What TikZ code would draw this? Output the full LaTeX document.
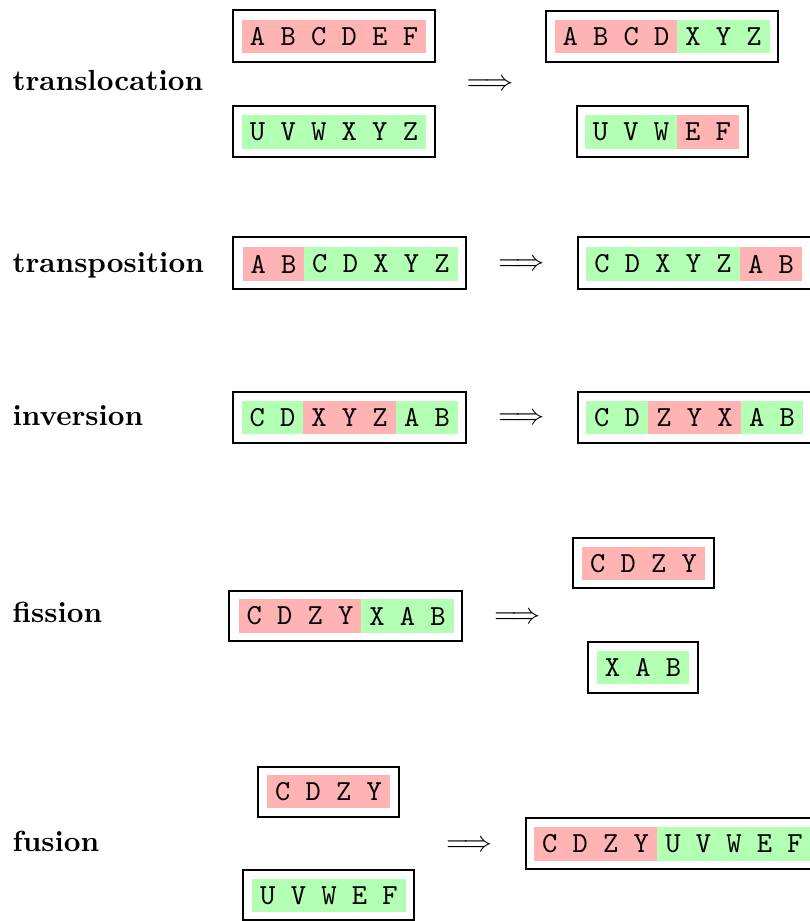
\documentclass[tikz,border=0pt]{standalone}
\usetikzlibrary{positioning}
\definecolor{segred}{RGB}{255,179,179}
\definecolor{seggreen}{RGB}{179,255,179}
\def\pxu{0.3436}
\newcommand\seg[7]{\node[segbox,fill=#6,minimum width={(#3-#2)*\pxu pt},minimum height={(#5-#4)*\pxu pt}] (#1) at ({(#2+#3)/2},{(#4+#5)/2}) {#7};}
\newcommand\obox[5]{\node[outerbox,minimum width={(#3-#2)*\pxu pt},minimum height={(#5-#4)*\pxu pt}] (#1) at ({(#2+#3)/2},{(#4+#5)/2}) {};}
\tikzset{
  segbox/.style={inner sep=0pt,outer sep=0pt,draw=none,font=\ttfamily,text=black},
  outerbox/.style={draw=black,line width=0.8pt,inner sep=0pt,outer sep=0pt},
  lab/.style={inner sep=0pt,font=\bfseries,anchor=base west},
  arr/.style={inner sep=0pt}
}
\begin{document}
\begin{tikzpicture}[x=0.3436pt,y=-0.3436pt]
\useasboundingbox (0,0) rectangle (810,921);
% row 1: translocation
\node[lab] (l1) at (12,91) {translocation};
\obox{b1}{233}{435}{10}{62}
\seg{s1}{242}{426}{20}{53}{segred}{A B C D E F}
\obox{b2}{233}{435}{106}{157}
\seg{s2}{242}{426}{115}{149}{seggreen}{U V W X Y Z}
\node[arr] (a1) at (490,85) {$\Longrightarrow$};
\obox{b3}{546}{778}{11}{62}
\seg{s3}{555}{677}{20}{53}{segred}{A B C D}
\seg{s4}{677}{770}{20}{53}{seggreen}{X Y Z}
\obox{b4}{577}{748}{106}{157}
\seg{s5}{585}{677}{115}{149}{seggreen}{U V W}
\seg{s6}{677}{739}{115}{149}{segred}{E F}
% row 2: transposition
\node[lab] (l2) at (12,272) {transposition};
\obox{b5}{233}{466}{237}{289}
\seg{s7}{243}{304}{247}{281}{segred}{A B}
\seg{s8}{304}{458}{247}{281}{seggreen}{C D X Y Z}
\node[arr] (a2) at (521.5,265) {$\Longrightarrow$};
\obox{b6}{578}{812}{237}{289}
\seg{s9}{586}{740}{247}{281}{seggreen}{C D X Y Z}
\seg{s10}{740}{802}{247}{281}{segred}{A B}
% row 3: inversion
\node[lab] (l3) at (12,425) {inversion};
\obox{b7}{233}{466}{392}{443}
\seg{s11}{242}{303}{401}{434}{seggreen}{C D}
\seg{s12}{303}{396}{401}{434}{segred}{X Y Z}
\seg{s13}{396}{458}{401}{434}{seggreen}{A B}
\node[arr] (a3) at (521.5,419) {$\Longrightarrow$};
\obox{b8}{578}{812}{392}{443}
\seg{s14}{586}{648}{401}{434}{seggreen}{C D}
\seg{s15}{648}{741}{401}{434}{segred}{Z Y X}
\seg{s16}{741}{803}{401}{434}{seggreen}{A B}
% row 4: fission
\node[lab] (l4) at (12,622) {fission};
\obox{b9}{229}{462}{591}{641}
\seg{s17}{239}{361}{599}{633}{segred}{C D Z Y}
\seg{s18}{361}{454}{599}{633}{seggreen}{X A B}
\node[arr] (a4) at (517.5,618) {$\Longrightarrow$};
\obox{b10}{573}{714}{538}{588}
\seg{s19}{582}{705}{547}{580}{segred}{C D Z Y}
\obox{b11}{588}{698}{642}{693}
\seg{s20}{597}{689}{651}{684}{seggreen}{X A B}
% row 5: fusion
\node[lab] (l5) at (12,851) {fusion};
\obox{b12}{258}{399}{767}{817}
\seg{s21}{267}{390}{775}{808}{segred}{C D Z Y}
\obox{b13}{243}{414}{870}{920}
\seg{s22}{252}{406}{879}{912}{seggreen}{U V W E F}
\node[arr] (a5) at (469.5,846) {$\Longrightarrow$};
\obox{b14}{526}{819}{818}{869}
\seg{s23}{534}{657}{827}{861}{segred}{C D Z Y}
\seg{s24}{657}{811}{827}{861}{seggreen}{U V W E F}
\end{tikzpicture}
\end{document}
